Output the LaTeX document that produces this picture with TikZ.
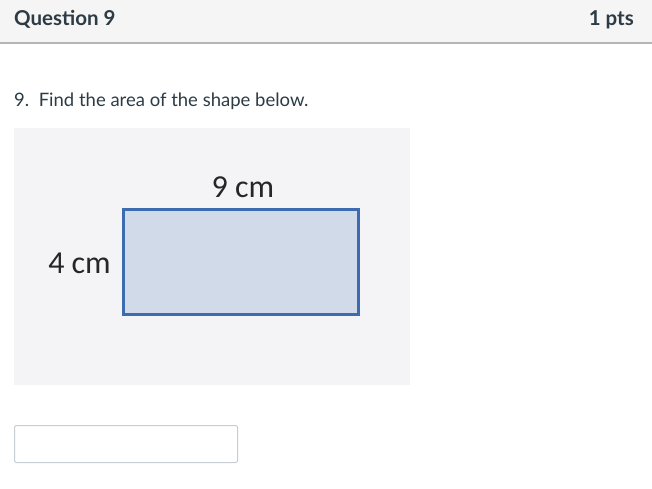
\documentclass[tikz,border=0pt]{standalone}
\usepackage{fontspec}
\setmainfont{Lato}
\newfontfamily\calib{Carlito}
\definecolor{hdrbg}{HTML}{F5F5F5}
\definecolor{hdrline}{HTML}{B5B5B5}
\definecolor{txt}{HTML}{2D3B45}
\definecolor{panel}{HTML}{F4F3F6}
\definecolor{rectfill}{HTML}{D0DAE8}
\definecolor{rectline}{HTML}{3D6BAF}
\definecolor{boxline}{HTML}{C7CDD1}
\begin{document}
\begin{tikzpicture}[x=1pt,y=-1pt,
  hdr/.style={font=\fontsize{20.5}{22}\selectfont\bfseries, text=txt, inner sep=0pt},
  body/.style={font=\fontsize{18.5}{21}\selectfont, text=txt, inner sep=0pt},
  dim/.style={font=\calib\fontsize{32}{34}\selectfont, text=black!85, inner sep=0pt}]
\useasboundingbox (0,0) rectangle (652,488);
\fill[white] (0,0) rectangle (652,488);
\fill[hdrbg] (0,0) rectangle (652,43);
\draw[hdrline, line width=1.2pt] (0,43) -- (652,43);
\node[hdr, anchor=base west] (q) at (14,25) {Question 9};
\node[hdr, anchor=base east] (pts) at (634,25) {1 pts};
\node[body, anchor=base west] (prompt) at (14,106) {9.\ \ Find the area of the shape below.};
\fill[panel] (14,128) rectangle (410,385);
\node[draw=rectline, fill=rectfill, line width=3pt, minimum width=235pt, minimum height=105pt, inner sep=0pt] (shape) at (241,262) {};
\node[dim, anchor=base] (w) at (243,197) {9 cm};
\node[dim, anchor=base east] (h) at (111,273) {4 cm};
\draw[boxline, line width=1pt, rounded corners=2pt, fill=white] (14.5,425.5) rectangle (237.5,462.5);
\end{tikzpicture}
\end{document}
